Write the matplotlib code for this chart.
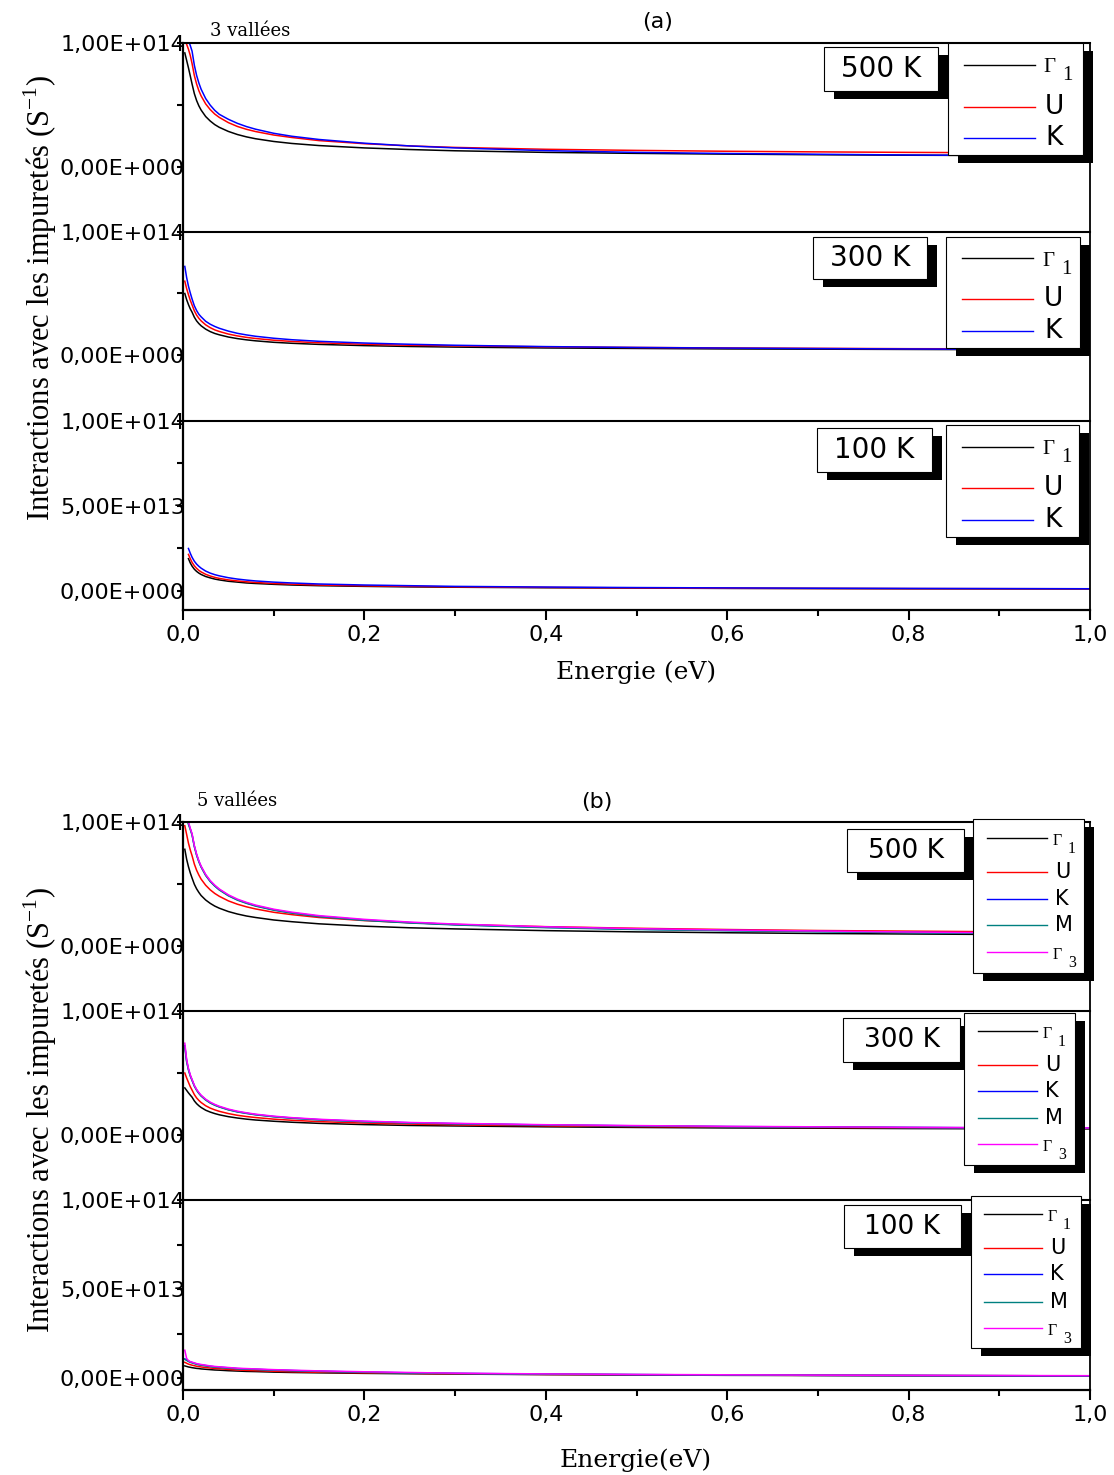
import numpy as np
import matplotlib
matplotlib.use("Agg")
import matplotlib.pyplot as plt
from matplotlib.patches import Rectangle
from matplotlib.lines import Line2D
from matplotlib.ticker import FixedLocator, FuncFormatter

# ============================================================
# Data (scattering rate in units of 1e14 s^-1)
# ============================================================
energy = [0.002, 0.004, 0.006, 0.008, 0.01, 0.0125, 0.015, 0.0175, 0.02, 0.025,
          0.03, 0.035, 0.04, 0.05, 0.06, 0.07, 0.08, 0.1, 0.12, 0.15,
          0.2, 0.25, 0.3, 0.4, 0.5, 0.6, 0.7, 0.8, 0.9, 1.0]
# the 100 K curves of (a) start a little later
energy_a100 = [0.006, 0.008, 0.01, 0.0125, 0.015, 0.0175, 0.02, 0.025,
               0.03, 0.035, 0.04, 0.05, 0.06, 0.07, 0.08, 0.1, 0.12, 0.15,
               0.2, 0.25, 0.3, 0.4, 0.5, 0.6, 0.7, 0.8, 0.9, 1.0]

# (a) 3 vallees
a500_G1 = [0.92, 0.86, 0.8, 0.735, 0.669, 0.592, 0.536, 0.493, 0.459, 0.407,
           0.371, 0.342, 0.32, 0.287, 0.262, 0.243, 0.228, 0.206, 0.19, 0.173,
           0.154, 0.141, 0.131, 0.118, 0.11, 0.104, 0.099, 0.095, 0.093, 0.09]
a500_U = [1.02, 0.99, 0.95, 0.9, 0.834, 0.738, 0.669, 0.615, 0.573, 0.509,
          0.463, 0.427, 0.4, 0.358, 0.327, 0.304, 0.286, 0.258, 0.238, 0.213,
          0.188, 0.17, 0.158, 0.143, 0.134, 0.127, 0.122, 0.118, 0.115, 0.113]
a500_K = [1.08, 1.05, 1.02, 0.98, 0.934, 0.821, 0.739, 0.677, 0.627, 0.552,
          0.499, 0.457, 0.425, 0.385, 0.352, 0.326, 0.305, 0.272, 0.248, 0.222,
          0.192, 0.17, 0.154, 0.132, 0.118, 0.109, 0.103, 0.097, 0.093, 0.089]

a300_G1 = [0.5, 0.45, 0.41, 0.375, 0.348, 0.307, 0.277, 0.255, 0.237, 0.21,
           0.19, 0.175, 0.164, 0.146, 0.133, 0.123, 0.115, 0.103, 0.095, 0.086,
           0.076, 0.069, 0.064, 0.057, 0.053, 0.049, 0.047, 0.045, 0.043, 0.042]
a300_U = [0.6, 0.54, 0.49, 0.445, 0.407, 0.359, 0.324, 0.298, 0.277, 0.245,
          0.222, 0.204, 0.191, 0.17, 0.155, 0.143, 0.134, 0.12, 0.11, 0.099,
          0.087, 0.079, 0.074, 0.066, 0.061, 0.057, 0.054, 0.051, 0.05, 0.048]
a300_K = [0.72, 0.63, 0.56, 0.505, 0.455, 0.4, 0.361, 0.331, 0.31, 0.274,
          0.25, 0.232, 0.217, 0.194, 0.176, 0.163, 0.152, 0.136, 0.124, 0.111,
          0.097, 0.087, 0.079, 0.068, 0.061, 0.056, 0.052, 0.049, 0.046, 0.044]

a100_G1 = [0.19, 0.165, 0.146, 0.128, 0.115, 0.105, 0.097, 0.085,
           0.077, 0.07, 0.065, 0.057, 0.052, 0.047, 0.044, 0.039, 0.035, 0.031,
           0.027, 0.024, 0.022, 0.019, 0.017, 0.015, 0.014, 0.013, 0.0125, 0.012]
a100_U = [0.215, 0.19, 0.168, 0.148, 0.133, 0.121, 0.112, 0.098,
          0.088, 0.08, 0.074, 0.065, 0.059, 0.054, 0.05, 0.044, 0.04, 0.035,
          0.03, 0.027, 0.024, 0.021, 0.018, 0.016, 0.015, 0.014, 0.0135, 0.013]
a100_K = [0.25, 0.222, 0.198, 0.175, 0.158, 0.145, 0.134, 0.117,
          0.105, 0.096, 0.089, 0.078, 0.07, 0.064, 0.059, 0.052, 0.047, 0.041,
          0.035, 0.031, 0.027, 0.023, 0.02, 0.018, 0.016, 0.015, 0.014, 0.013]

# (b) 5 vallees
b500_G1 = [0.78, 0.7, 0.64, 0.59, 0.548, 0.498, 0.461, 0.432, 0.407, 0.371,
           0.344, 0.322, 0.305, 0.278, 0.258, 0.242, 0.23, 0.21, 0.196, 0.179,
           0.16, 0.147, 0.138, 0.124, 0.114, 0.107, 0.101, 0.097, 0.093, 0.09]
b500_U = [0.97, 0.9, 0.83, 0.775, 0.728, 0.661, 0.611, 0.572, 0.539, 0.49,
          0.453, 0.424, 0.401, 0.364, 0.337, 0.316, 0.299, 0.272, 0.253, 0.23,
          0.205, 0.188, 0.174, 0.156, 0.143, 0.133, 0.125, 0.12, 0.115, 0.11]
b500_K = [1.12, 1.05, 0.99, 0.945, 0.899, 0.805, 0.736, 0.682, 0.639, 0.572,
          0.523, 0.486, 0.455, 0.408, 0.373, 0.347, 0.325, 0.292, 0.268, 0.24,
          0.21, 0.189, 0.173, 0.151, 0.136, 0.126, 0.118, 0.11, 0.104, 0.1]
b500_M = [1.11, 1.04, 0.98, 0.94, 0.895, 0.801, 0.732, 0.679, 0.636, 0.569,
          0.52, 0.483, 0.452, 0.405, 0.37, 0.344, 0.322, 0.289, 0.265, 0.237,
          0.207, 0.186, 0.17, 0.148, 0.133, 0.123, 0.115, 0.108, 0.102, 0.098]
b500_G3 = [1.13, 1.06, 1.0, 0.95, 0.905, 0.81, 0.741, 0.687, 0.644, 0.577,
           0.528, 0.491, 0.46, 0.413, 0.378, 0.352, 0.33, 0.297, 0.273, 0.245,
           0.215, 0.193, 0.177, 0.155, 0.14, 0.129, 0.121, 0.113, 0.107, 0.102]

b300_G1 = [0.38, 0.36, 0.34, 0.322, 0.305, 0.275, 0.253, 0.236, 0.222, 0.2,
           0.185, 0.173, 0.163, 0.148, 0.137, 0.128, 0.121, 0.111, 0.103, 0.094,
           0.084, 0.077, 0.073, 0.066, 0.061, 0.057, 0.055, 0.052, 0.05, 0.049]
b300_U = [0.5, 0.46, 0.425, 0.39, 0.362, 0.326, 0.299, 0.279, 0.262, 0.236,
          0.217, 0.203, 0.191, 0.173, 0.159, 0.149, 0.141, 0.128, 0.119, 0.108,
          0.096, 0.088, 0.082, 0.074, 0.068, 0.064, 0.061, 0.058, 0.056, 0.054]
b300_K = [0.72, 0.6, 0.53, 0.48, 0.443, 0.397, 0.364, 0.338, 0.317, 0.285,
          0.261, 0.243, 0.228, 0.205, 0.188, 0.176, 0.165, 0.149, 0.137, 0.124,
          0.109, 0.099, 0.092, 0.081, 0.074, 0.068, 0.065, 0.061, 0.058, 0.056]
b300_M = [0.71, 0.59, 0.525, 0.476, 0.44, 0.394, 0.361, 0.335, 0.314, 0.282,
          0.258, 0.24, 0.226, 0.203, 0.186, 0.174, 0.163, 0.147, 0.135, 0.122,
          0.107, 0.097, 0.09, 0.08, 0.073, 0.067, 0.064, 0.06, 0.057, 0.055]
b300_G3 = [0.74, 0.61, 0.537, 0.486, 0.448, 0.401, 0.368, 0.342, 0.321, 0.289,
           0.265, 0.247, 0.232, 0.209, 0.192, 0.179, 0.168, 0.152, 0.14, 0.127,
           0.112, 0.101, 0.094, 0.083, 0.076, 0.07, 0.066, 0.062, 0.059, 0.057]

b100_G1 = [0.068, 0.065, 0.062, 0.06, 0.058, 0.056, 0.054, 0.053, 0.051, 0.049,
           0.047, 0.045, 0.044, 0.041, 0.039, 0.037, 0.036, 0.033, 0.031, 0.029,
           0.026, 0.024, 0.022, 0.019, 0.017, 0.015, 0.014, 0.013, 0.012, 0.011]
b100_U = [0.088, 0.083, 0.078, 0.075, 0.072, 0.069, 0.066, 0.064, 0.062, 0.059,
          0.056, 0.054, 0.052, 0.048, 0.045, 0.043, 0.041, 0.038, 0.035, 0.032,
          0.029, 0.026, 0.023, 0.02, 0.018, 0.016, 0.015, 0.014, 0.013, 0.012]
b100_K = [0.107, 0.101, 0.095, 0.09, 0.087, 0.083, 0.079, 0.076, 0.074, 0.07,
          0.066, 0.063, 0.061, 0.057, 0.053, 0.051, 0.049, 0.045, 0.042, 0.038,
          0.033, 0.029, 0.026, 0.022, 0.019, 0.017, 0.015, 0.014, 0.013, 0.012]
b100_M = [0.105, 0.099, 0.093, 0.088, 0.085, 0.081, 0.077, 0.074, 0.072, 0.068,
          0.064, 0.061, 0.059, 0.055, 0.052, 0.05, 0.048, 0.044, 0.041, 0.037,
          0.032, 0.028, 0.025, 0.021, 0.019, 0.017, 0.015, 0.014, 0.013, 0.012]
b100_G3 = [0.156, 0.11, 0.098, 0.092, 0.089, 0.085, 0.081, 0.078, 0.076, 0.072,
           0.068, 0.065, 0.063, 0.059, 0.055, 0.053, 0.051, 0.047, 0.044, 0.04,
           0.035, 0.031, 0.027, 0.023, 0.02, 0.018, 0.016, 0.015, 0.014, 0.013]

labels_3 = ['Γ1', 'U', 'K']
labels_5 = ['Γ1', 'U', 'K', 'M', 'Γ3']
colors_5 = ['black', 'red', 'blue', '#008080', 'magenta']
temps = ['500 K', '300 K', '100 K']
x_ticks = [0.0, 0.2, 0.4, 0.6, 0.8, 1.0]

# ============================================================
# Figure helpers (pixel layout of the 1114x1475 picture)
# ============================================================
W, H = 1114, 1475
plt.rcParams['font.family'] = 'DejaVu Sans'
fig = plt.figure(figsize=(W / 100, H / 100), dpi=100)


def fx(x):
    return x / W


def fy(y):
    return 1 - y / H


def sci_comma(v, pos):
    if abs(v) < 1:
        return '0,00E+000'
    e = int(np.floor(np.log10(abs(v)) + 1e-9))
    m = v / 10 ** e
    return f"{m:.2f}E{e:+04d}".replace('.', ',')


def shadow_box(x0, y0, x1, y1, dx=10, dy=8):
    w, h = (x1 - x0) / W, (y1 - y0) / H
    fig.add_artist(Rectangle((fx(x0 + dx), fy(y1 + dy)), w, h, transform=fig.transFigure,
                             facecolor='black', edgecolor='none', zorder=5))
    fig.add_artist(Rectangle((fx(x0), fy(y1)), w, h, transform=fig.transFigure,
                             facecolor='white', edgecolor='black', lw=0.8, zorder=6))


def temp_box(box, text, fs):
    shadow_box(*box)
    fig.text(fx((box[0] + box[2]) / 2), fy((box[1] + box[3]) / 2), text, fontsize=fs,
             ha='center', va='center', zorder=8)


def legend_box(box, line_x, rows, text_x, labels, colors, fs, gfs):
    shadow_box(*box)
    for y, lab, c in zip(rows, labels, colors):
        fig.add_artist(Line2D([fx(line_x[0]), fx(line_x[1])], [fy(y), fy(y)],
                              transform=fig.transFigure, color=c, lw=1.0, zorder=7))
        if lab.startswith('Γ'):
            fig.text(fx(text_x), fy(y + 3), 'Γ', family='Liberation Serif', fontsize=gfs,
                     ha='left', va='center', zorder=8)
            fig.text(fx(text_x + gfs * 1.3), fy(y + 11), lab[1:], family='Liberation Serif',
                     fontsize=gfs, ha='left', va='center', zorder=8)
        else:
            fig.text(fx(text_x + 2), fy(y), lab, fontsize=fs, ha='left', va='center', zorder=8)


def make_panel(top, bottom, ymin, is_bottom):
    ax = fig.add_axes([fx(183), fy(bottom), (1090 - 183) / W, (bottom - top) / H])
    ax.set_xlim(0, 1)
    ax.set_ylim(ymin * 1e14, 1e14)
    ax.spines['left'].set_linewidth(1.6)
    ax.spines['top'].set_linewidth(1.5)
    ax.spines['right'].set_linewidth(1.3)
    ax.spines['bottom'].set_linewidth(1.6)
    ax.spines['bottom'].set_visible(is_bottom)
    ax.patch.set_alpha(0)
    if is_bottom:
        ax.yaxis.set_major_locator(FixedLocator([0, 5e13, 1e14]))
        ax.yaxis.set_minor_locator(FixedLocator([2.5e13, 7.5e13]))
        ax.xaxis.set_major_locator(FixedLocator(x_ticks))
        ax.xaxis.set_minor_locator(FixedLocator([0.1, 0.3, 0.5, 0.7, 0.9]))
        ax.xaxis.set_major_formatter(FuncFormatter(lambda v, p: f"{v:.1f}".replace('.', ',')))
        ax.tick_params(axis='x', which='major', direction='out', length=7, width=1.5,
                       pad=4, labelsize=16)
        ax.tick_params(axis='x', which='minor', direction='out', length=4, width=1.5)
    else:
        ax.yaxis.set_major_locator(FixedLocator([0, 1e14]))
        ax.yaxis.set_minor_locator(FixedLocator([5e13]))
        ax.tick_params(axis='x', which='both', bottom=False, labelbottom=False)
    ax.yaxis.set_major_formatter(FuncFormatter(sci_comma))
    ax.tick_params(axis='y', which='major', direction='out', length=4, width=1.5,
                   pad=-5.5, labelsize=16)
    ax.tick_params(axis='y', which='minor', direction='out', length=4, width=1.5)
    return ax


# ============================================================
# (a) 3 vallees
# ============================================================
a_panels = [(43, 232, -0.524), (232, 421, -0.537), (421, 610, -0.112)]
a_series = [(energy, [a500_G1, a500_U, a500_K]),
            (energy, [a300_G1, a300_U, a300_K]),
            (energy_a100, [a100_G1, a100_U, a100_K])]
for i, ((top, bot, ymin), (e, ys)) in enumerate(zip(a_panels, a_series)):
    ax = make_panel(top, bot, ymin, i == 2)
    for y, c, lab in zip(ys, colors_5, labels_3):
        ax.plot(e, np.array(y) * 1e14, color=c, lw=1.1, label=lab)

temp_box((824, 47, 938, 91), temps[0], 20)
legend_box((948, 43, 1083, 155), (964, 1035), (65, 107, 138), 1043, labels_3, colors_5, 19, 15)
temp_box((813, 237, 927, 279), temps[1], 20)
legend_box((946, 237, 1080, 348), (962, 1033), (258, 299, 331), 1042, labels_3, colors_5, 19, 15)
temp_box((817, 428, 932, 472), temps[2], 20)
legend_box((946, 425, 1079, 537), (962, 1033), (447, 488, 520), 1042, labels_3, colors_5, 19, 15)

fig.text(fx(658), fy(22), '(a)', fontsize=16, ha='center', va='center')
fig.text(fx(210), fy(31), '3 vallées', family='DejaVu Serif', fontsize=13, ha='left', va='center')
fig.text(fx(636), fy(672), 'Energie (eV)', family='DejaVu Serif', fontsize=18, ha='center', va='center')
fig.text(fx(40), fy(298), r'Interactions avec les impuretés (S$^{\mathregular{-1}}$)',
         family='Liberation Serif', fontsize=22, rotation=90, ha='center', va='center')

# ============================================================
# (b) 5 vallees
# ============================================================
b_panels = [(822, 1011, -0.524), (1011, 1200, -0.524), (1200, 1390, -0.0674)]
b_series = [(energy, [b500_G1, b500_U, b500_K, b500_M, b500_G3]),
            (energy, [b300_G1, b300_U, b300_K, b300_M, b300_G3]),
            (energy, [b100_G1, b100_U, b100_K, b100_M, b100_G3])]
for i, ((top, bot, ymin), (e, ys)) in enumerate(zip(b_panels, b_series)):
    ax = make_panel(top, bot, ymin, i == 2)
    for y, c, lab in zip(ys, colors_5, labels_5):
        ax.plot(e, np.array(y) * 1e14, color=c, lw=1.1, label=lab)

temp_box((847, 829, 964, 872), temps[0], 19)
legend_box((973, 819, 1084, 973), (987, 1047), (838, 872, 899, 925, 952), 1053, labels_5, colors_5, 15, 11.5)
temp_box((843, 1018, 960, 1062), temps[1], 19)
legend_box((964, 1013, 1075, 1165), (978, 1037), (1031, 1065, 1091, 1118, 1144), 1043, labels_5, colors_5, 15, 11.5)
temp_box((844, 1205, 961, 1248), temps[2], 19)
legend_box((971, 1196, 1081, 1348), (984, 1042), (1214, 1248, 1274, 1302, 1328), 1048, labels_5, colors_5, 15, 11.5)

fig.text(fx(597), fy(802), '(b)', fontsize=16, ha='center', va='center')
fig.text(fx(197), fy(801), '5 vallées', family='DejaVu Serif', fontsize=13, ha='left', va='center')
fig.text(fx(636), fy(1460), 'Energie(eV)', family='DejaVu Serif', fontsize=18, ha='center', va='center')
fig.text(fx(40), fy(1110), r'Interactions avec les impuretés (S$^{\mathregular{-1}}$)',
         family='Liberation Serif', fontsize=22, rotation=90, ha='center', va='center')

fig.savefig('out.png', dpi=100)
